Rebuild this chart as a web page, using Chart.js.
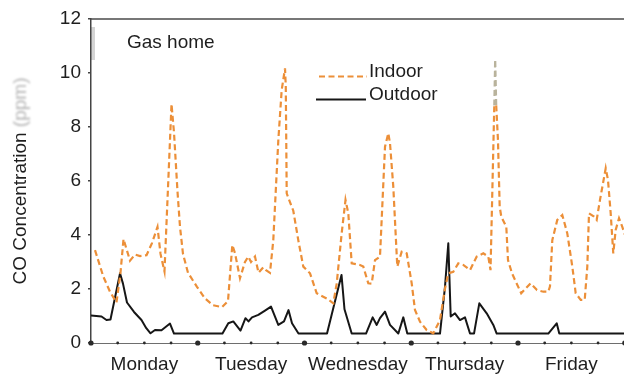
<!DOCTYPE html>
<html>
<head>
<meta charset="utf-8">
<script src="https://cdn.jsdelivr.net/npm/chart.js@4.4.1/dist/chart.umd.min.js"></script>
<style>
  html, body { margin: 0; padding: 0; background: #fff; overflow: hidden; }
  #wrap { width: 624px; height: 374px; position: relative; }
  canvas { display: block; }
</style>
</head>
<body>
<div id="wrap"><canvas id="c" width="624" height="374" style="width:624px;height:374px"></canvas></div>
<script>
// Hourly CO readings over one working week (hours since Monday 00:00)
const dayLabels = ['Monday', 'Tuesday', 'Wednesday', 'Thursday', 'Friday'];
const yTickValues = [0, 2, 4, 6, 8, 10, 12];
const panelLabel = 'Gas home';
const yTitleMain = 'CO Concentration ';
const yTitleUnit = '(ppm)';

const indoorHours = [
  0.90, 2.77, 4.27, 5.73, 6.63, 7.31, 8.77, 9.89, 11.02, 12.48, 13.71, 14.95, 15.63, 16.52,
  18.10, 18.66, 19.45, 20.01, 20.68, 21.81, 23.83, 25.63, 27.43, 29.45, 30.80,
  31.77, 32.37, 33.50, 34.62, 35.36, 35.97, 36.87, 37.66, 38.74, 39.34, 40.24, 40.98,
  42.11, 42.87, 43.62, 43.79, 44.00, 45.12, 45.48, 46.61, 47.73, 49.24, 50.74, 52.99,
  54.47, 55.24, 56.36, 57.22, 57.85, 58.61, 60.48, 61.22, 62.34, 63.11, 63.85, 64.97,
  66.10, 66.84, 67.22, 67.96, 68.86, 69.85, 70.98, 72.10, 72.84, 73.97, 75.47, 76.96,
  78.46, 79.59, 80.33, 81.45, 82.58, 83.70, 85.21, 86.71, 88.20, 89.32, 89.82,
  90.67, 90.87, 91.10, 91.50, 91.88, 92.24, 93.37, 93.75, 94.65, 96.72, 98.81, 100.27,
  101.69, 102.81, 103.19, 103.71, 104.83, 105.96, 107.08, 108.21, 108.97, 110.10, 111.00,
  111.58, 111.96, 113.09, 113.69, 114.43, 115.72, 116.23, 116.84, 117.42, 117.96, 118.71,
  119.45, 120.05
];
const indoorPpm = [
  3.44, 2.46, 1.90, 1.50, 2.60, 3.85, 3.05, 3.28, 3.22, 3.25, 3.70, 4.30, 3.30, 2.65,
  8.85, 7.80, 5.60, 4.30, 3.30, 2.60, 2.08, 1.65, 1.40, 1.33, 1.55,
  3.63, 3.33, 2.40, 3.00, 3.20, 3.00, 3.20, 2.60, 2.80, 2.70, 2.60, 3.80,
  7.50, 9.37, 10.17, 9.50, 5.54, 5.05, 4.90, 3.80, 2.83, 2.58, 1.84, 1.65,
  1.47, 2.20, 4.07, 5.30, 4.80, 2.95, 2.89, 2.83, 2.21, 2.20, 3.07, 3.20,
  7.27, 7.77, 7.40, 5.79, 2.83, 3.38, 3.32, 2.21, 1.22, 0.79, 0.48, 0.36,
  0.85, 2.02, 2.58, 2.64, 2.95, 2.89, 2.70, 3.20, 3.32, 3.20, 2.70,
  8.80, 10.50, 8.80, 7.50, 5.05, 4.68, 4.30, 3.07, 2.58, 1.84, 2.21, 1.96,
  1.90, 1.90, 2.10, 3.81, 4.56, 4.74, 4.06, 2.83, 1.84, 1.60, 1.60,
  2.83, 4.80, 4.68, 4.56, 5.30, 6.47, 6.04, 4.80, 3.32, 4.19, 4.62,
  4.30, 4.00
];

const outdoorHours = [
  0.00, 2.36, 3.48, 4.38, 6.52, 7.19, 8.09, 9.67, 11.35, 12.43, 13.38, 14.39, 15.85, 17.76, 18.66,
  29.56, 30.87, 31.99, 33.61, 34.73, 35.41, 36.20, 37.61, 39.12, 40.47, 42.11, 43.39, 44.40, 45.19, 46.65,
  53.06, 56.32, 56.99, 58.61, 61.83, 63.33, 64.23, 64.97, 66.10, 67.22, 69.09, 70.21, 71.11,
  78.46, 79.59, 80.33, 80.87, 81.83, 82.96, 84.08, 85.21, 86.11, 87.30, 88.96, 90.45, 91.21,
  102.81, 104.70, 105.28, 120.05
];
const outdoorPpm = [
  1.02, 0.98, 0.85, 0.87, 2.58, 2.20, 1.50, 1.15, 0.85, 0.55, 0.36, 0.48, 0.47, 0.72, 0.35,
  0.35, 0.73, 0.80, 0.46, 0.92, 0.80, 0.95, 1.04, 1.20, 1.35, 0.67, 0.80, 1.22, 0.73, 0.35,
  0.35, 2.52, 1.25, 0.35, 0.35, 0.95, 0.67, 0.92, 1.16, 0.67, 0.35, 0.95, 0.35,
  0.35, 2.09, 3.69, 0.98, 1.10, 0.85, 0.95, 0.35, 0.35, 1.47, 1.10, 0.67, 0.35,
  0.35, 0.73, 0.35, 0.35
];

const FONT = '"Liberation Sans", Arial, Helvetica, sans-serif';
const TEXT = '#1e1e1e';
const INDOOR = '#ec8f38';
const INDOOR_DIM = '#b9b39c';
const OUTDOOR = '#161616';
const PLOT_LEFT = 91;
const PLOT_TOP = 19;
const PLOT_BOTTOM = 343;

const toPoints = (xs, ys) => xs.map((x, i) => ({ x: x, y: ys[i] }));

// Decorations: frame top edge, axis dots, rotated title, panel tag and legend
const decorations = {
  id: 'decorations',
  beforeDraw(chart) {
    const ctx = chart.ctx;
    ctx.save();
    ctx.fillStyle = '#fff';
    ctx.fillRect(0, 0, chart.width, chart.height);
    // pale strip beside the panel tag
    ctx.fillStyle = '#d4d4d4';
    ctx.fillRect(chart.chartArea.left - 1, 27, 5, 33);
    ctx.restore();
  },
  afterDraw(chart) {
    const ctx = chart.ctx;
    const area = chart.chartArea;
    const xs = chart.scales.x;
    ctx.save();

    // top edge of the frame
    ctx.strokeStyle = '#4a4a4a';
    ctx.lineWidth = 1.5;
    ctx.beginPath();
    ctx.moveTo(area.left - 0.5, area.top);
    ctx.lineTo(area.right, area.top);
    ctx.stroke();

    // dots along the time axis: every 6 h, larger at midnight
    ctx.fillStyle = '#2a2a2a';
    for (let h = 0; h <= 120; h += 6) {
      const px = xs.getPixelForValue(h);
      const r = (h % 24 === 0) ? 2.6 : 1.4;
      ctx.beginPath();
      ctx.arc(px, area.bottom, r, 0, Math.PI * 2);
      ctx.fill();
    }

    // rotated y title: main text dark, unit faint and soft
    ctx.font = '19px ' + FONT;
    ctx.textBaseline = 'middle';
    ctx.textAlign = 'left';
    const wMain = ctx.measureText(yTitleMain).width;
    const wUnit = ctx.measureText(yTitleUnit).width;
    const total = wMain + wUnit;
    const cy = (area.top + area.bottom) / 2;
    ctx.translate(21, cy);
    ctx.rotate(-Math.PI / 2);
    ctx.fillStyle = TEXT;
    ctx.fillText(yTitleMain, -total / 2, 0);
    ctx.filter = 'blur(1.2px)';
    ctx.fillStyle = '#b4b4b4';
    ctx.fillText(yTitleUnit, -total / 2 + wMain, 0);
    ctx.filter = 'none';
    ctx.setTransform(1, 0, 0, 1, 0, 0);

    // panel tag
    ctx.font = '19px ' + FONT;
    ctx.fillStyle = TEXT;
    ctx.textBaseline = 'alphabetic';
    ctx.fillText(panelLabel, 127, 47.5);

    // legend
    const rows = [
      { ds: chart.data.datasets[0], y: 76.5, x0: 319, x1: 367 },
      { ds: chart.data.datasets[1], y: 99.5, x0: 316, x1: 366 }
    ];
    rows.forEach(r => {
      ctx.strokeStyle = r.ds.borderColor;
      ctx.lineWidth = r.ds.borderWidth;
      ctx.setLineDash(r.ds.borderDash || []);
      ctx.beginPath();
      ctx.moveTo(r.x0, r.y);
      ctx.lineTo(r.x1, r.y);
      ctx.stroke();
      ctx.setLineDash([]);
      ctx.fillStyle = TEXT;
      ctx.fillText(r.ds.label, 369, r.y + 0.5);
    });

    ctx.restore();
  }
};

new Chart(document.getElementById('c'), {
  type: 'line',
  data: {
    datasets: [
      {
        label: 'Indoor',
        data: toPoints(indoorHours, indoorPpm),
        borderColor: INDOOR,
        borderWidth: 2.2,
        borderDash: [6, 3.5],
        pointRadius: 0,
        tension: 0,
        segment: {
          // the tip of the Thursday spike is printed faint
          borderColor: c => (c.p0.parsed.x > 90.5 && c.p1.parsed.x < 91.2) ? INDOOR_DIM : undefined
        }
      },
      {
        label: 'Outdoor',
        data: toPoints(outdoorHours, outdoorPpm),
        borderColor: OUTDOOR,
        borderWidth: 2,
        pointRadius: 0,
        tension: 0,
        borderJoinStyle: 'round'
      }
    ]
  },
  options: {
    responsive: false,
    animation: false,
    maintainAspectRatio: false,
    devicePixelRatio: 1,
    layout: { padding: { top: PLOT_TOP, right: 0, left: 0, bottom: 0 } },
    plugins: { legend: { display: false }, tooltip: { enabled: false } },
    scales: {
      x: {
        type: 'linear',
        position: 'bottom',
        min: 0,
        max: 119.83,
        afterBuildTicks: s => { s.ticks = dayLabels.map((_, i) => ({ value: 12 + 24 * i })); },
        afterFit: s => { s.height = 374 - PLOT_BOTTOM; },
        grid: { display: false },
        border: { display: true, color: '#6e6e6e', width: 1 },
        ticks: {
          autoSkip: false,
          maxRotation: 0,
          padding: 2,
          color: TEXT,
          font: { family: FONT, size: 19 },
          callback: v => dayLabels[Math.round((v - 12) / 24)]
        }
      },
      y: {
        type: 'linear',
        min: 0,
        max: 12,
        afterBuildTicks: s => { s.ticks = yTickValues.map(v => ({ value: v })); },
        afterFit: s => { s.width = PLOT_LEFT; },
        grid: { drawOnChartArea: false, drawTicks: true, tickLength: 3, color: '#444', lineWidth: 1.5 },
        border: { display: true, color: '#444', width: 1.5 },
        ticks: {
          padding: 7,
          color: TEXT,
          font: { family: FONT, size: 19 }
        }
      }
    }
  },
  plugins: [decorations]
});
</script>
</body>
</html>
